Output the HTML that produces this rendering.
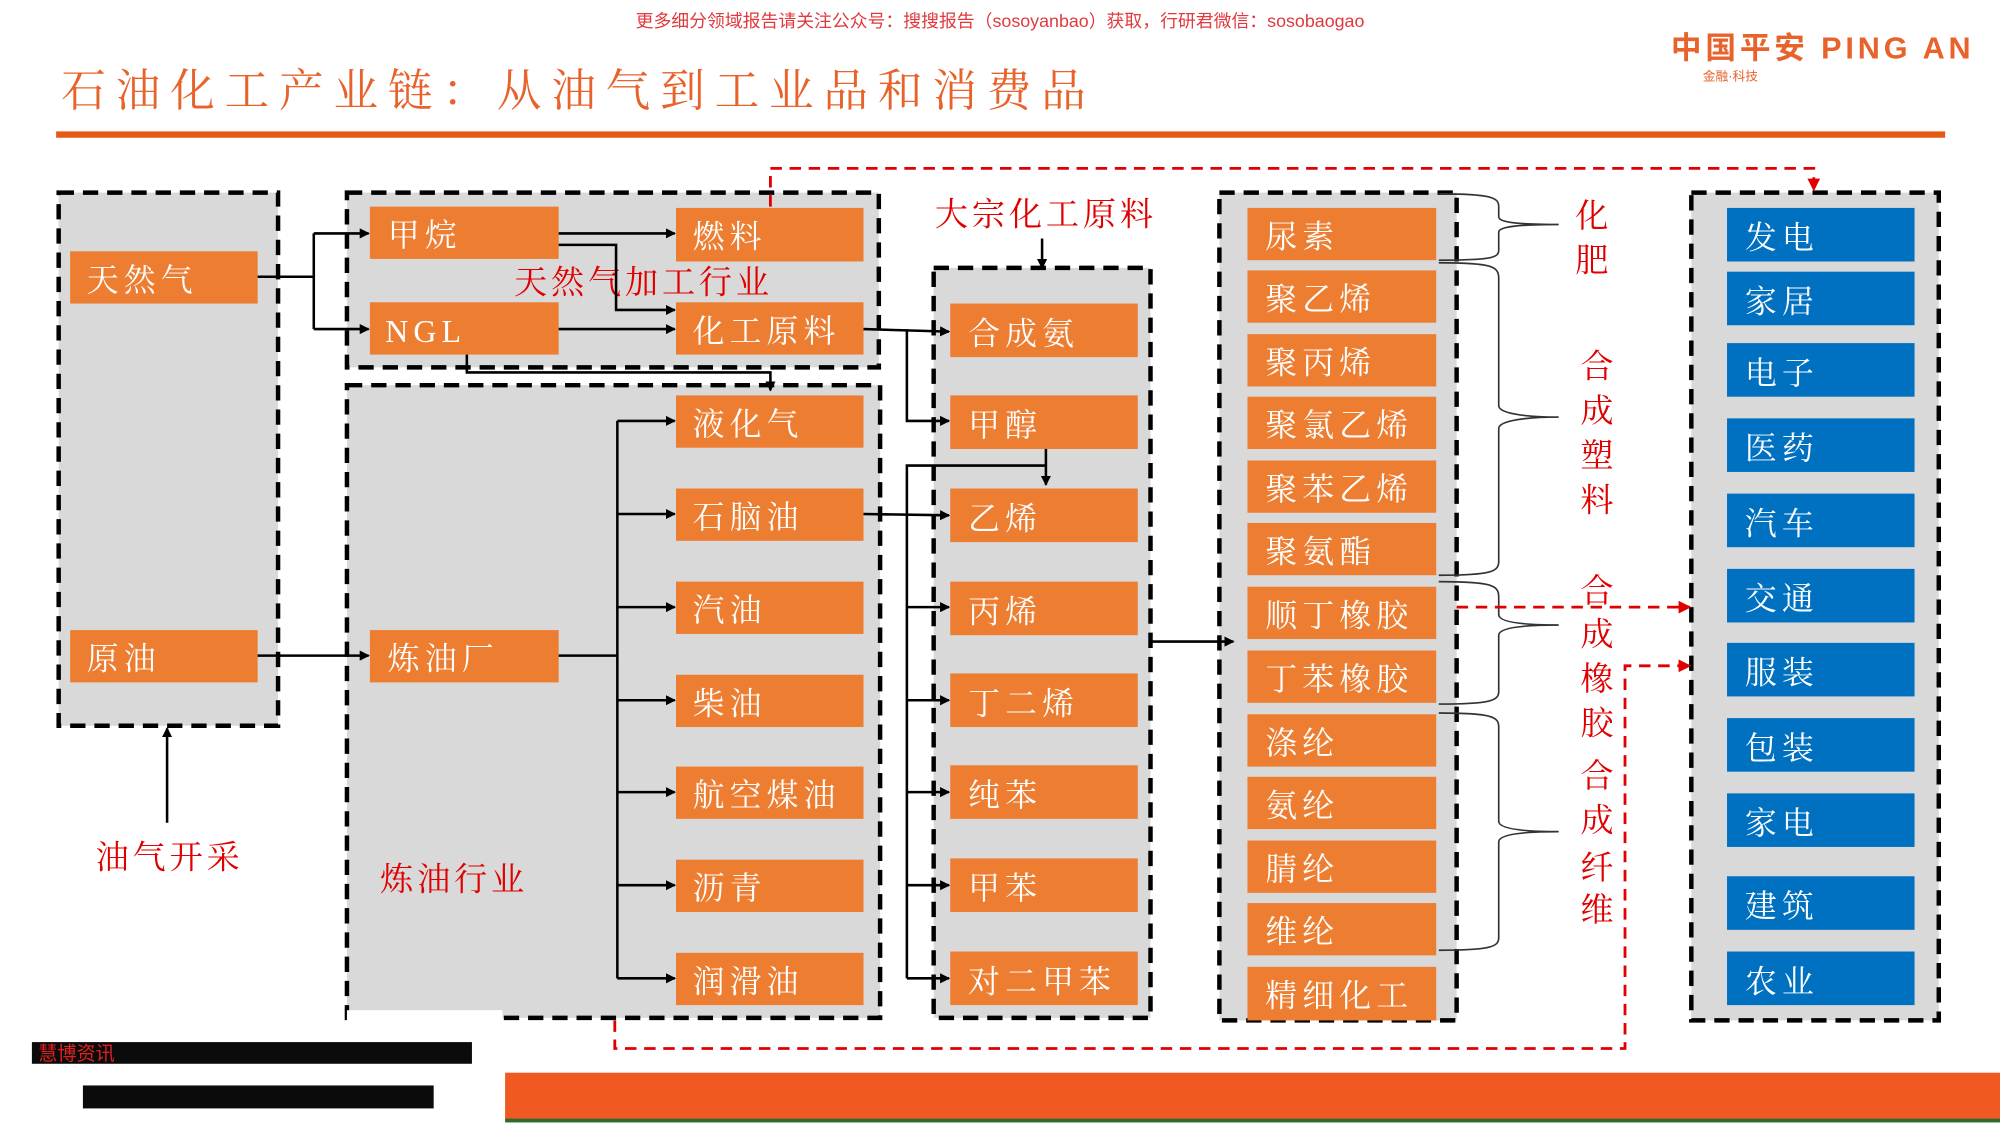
<!DOCTYPE html>
<html><head><meta charset="utf-8"><style>
html,body{margin:0;padding:0;background:#fff;width:2000px;height:1125px;overflow:hidden}
svg{display:block}
.o{fill:#ed7d31}.b{fill:#0070c0}
.t{font-family:"Liberation Serif","Noto Serif CJK SC",serif;font-size:25px;fill:#fff;letter-spacing:4px}
.r{font-family:"Liberation Serif","Noto Serif CJK SC",serif;font-size:26px;fill:#e00000;letter-spacing:3px}
.g{fill:#d9d9d9;stroke:#000;stroke-width:3.5;stroke-dasharray:12 7}
.l{stroke:#000;stroke-width:2;fill:none}
.rd{stroke:#e00000;stroke-width:2.2;fill:none;stroke-dasharray:9 6}
.br{stroke:#333;stroke-width:1.3;fill:none}
</style></head><body>
<svg width="2000" height="1125" viewBox="0 0 1568 882" xmlns="http://www.w3.org/2000/svg">
<defs>
<marker id="a" markerWidth="8" markerHeight="8" refX="7" refY="4" orient="auto" markerUnits="userSpaceOnUse"><path d="M0,0 L8,4 L0,8z" fill="#000"/></marker>
<marker id="ar" markerWidth="10" markerHeight="10" refX="9" refY="5" orient="auto" markerUnits="userSpaceOnUse"><path d="M0,0 L10,5 L0,10z" fill="#e00000"/></marker>
</defs>
<text x="784" y="21" text-anchor="middle" font-family="Liberation Sans,'Noto Sans CJK SC',sans-serif" font-size="14" fill="#e0393e">更多细分领域报告请关注公众号：搜搜报告（sosoyanbao）获取，行研君微信：sosobaogao</text>
<text x="1310" y="46" font-family="Liberation Sans,'Noto Sans CJK SC',sans-serif" font-size="24" font-weight="bold" fill="#e8632b" textLength="235">中国平安 PING AN</text>
<text x="1335" y="63" font-family="Liberation Sans,'Noto Sans CJK SC',sans-serif" font-size="10" fill="#e8632b">金融·科技</text>
<text x="48" y="83" font-family="'Noto Serif CJK SC',serif" font-size="35" fill="#e8632b" letter-spacing="7.7">石油化工产业链：从油气到工业品和消费品</text>
<rect x="44" y="103" width="1481" height="5" fill="#e55a13"/>

<rect class="g" x="46" y="151" width="172" height="418"/>
<rect class="o" x="55" y="197" width="147" height="41"/><text class="t" x="68" y="228">天然气</text>
<rect class="o" x="55" y="494" width="147" height="41"/><text class="t" x="68" y="525">原油</text>
<line class="l" x1="131" y1="645" x2="131" y2="571" marker-end="url(#a)"/>
<text class="r" x="75" y="681">油气开采</text>

<rect class="g" x="272" y="151" width="417" height="137"/>
<rect class="o" x="290" y="162" width="148" height="41"/><text class="t" x="304" y="193">甲烷</text>
<rect class="o" x="290" y="237" width="148" height="41"/><text class="t" x="302" y="268">NGL</text>
<rect class="o" x="530" y="163" width="147" height="42"/><text class="t" x="543" y="194">燃料</text>
<rect class="o" x="530" y="237" width="147" height="41"/><text class="t" x="543" y="268">化工原料</text>
<text class="r" x="403" y="230">天然气加工行业</text>

<rect class="g" x="272" y="302" width="418" height="496"/>
<rect x="272" y="792" width="122" height="10" fill="#fff"/>
<rect x="274" y="780" width="120" height="10" fill="#d9d9d9"/>
<rect class="o" x="290" y="494" width="148" height="41"/><text class="t" x="304" y="525">炼油厂</text>
<rect class="o" x="530" y="310" width="147" height="41"/><text class="t" x="543" y="341">液化气</text>
<rect class="o" x="530" y="383" width="147" height="41"/><text class="t" x="543" y="414">石脑油</text>
<rect class="o" x="530" y="456" width="147" height="41"/><text class="t" x="543" y="487">汽油</text>
<rect class="o" x="530" y="529" width="147" height="41"/><text class="t" x="543" y="560">柴油</text>
<rect class="o" x="530" y="601" width="147" height="41"/><text class="t" x="543" y="632">航空煤油</text>
<rect class="o" x="530" y="674" width="147" height="41"/><text class="t" x="543" y="705">沥青</text>
<rect class="o" x="530" y="747" width="147" height="41"/><text class="t" x="543" y="778">润滑油</text>
<text class="r" x="298" y="698">炼油行业</text>

<text class="r" x="733" y="177">大宗化工原料</text>
<line class="l" x1="817" y1="187" x2="817" y2="210" marker-end="url(#a)"/>
<rect class="g" x="732" y="210" width="170" height="588"/>
<rect class="o" x="745" y="238" width="147" height="42"/><text class="t" x="759" y="270">合成氨</text>
<rect class="o" x="745" y="310" width="147" height="42"/><text class="t" x="759" y="342">甲醇</text>
<rect class="o" x="745" y="383" width="147" height="42"/><text class="t" x="759" y="415">乙烯</text>
<rect class="o" x="745" y="456" width="147" height="42"/><text class="t" x="759" y="488">丙烯</text>
<rect class="o" x="745" y="528" width="147" height="42"/><text class="t" x="759" y="560">丁二烯</text>
<rect class="o" x="745" y="600" width="147" height="42"/><text class="t" x="759" y="632">纯苯</text>
<rect class="o" x="745" y="673" width="147" height="42"/><text class="t" x="759" y="705">甲苯</text>
<rect class="o" x="745" y="746" width="147" height="42"/><text class="t" x="759" y="778">对二甲苯</text>

<rect class="g" x="956" y="151" width="186" height="649"/>
<g>
<rect class="o" x="978" y="163" width="148" height="41"/><text class="t" x="992" y="194">尿素</text>
<rect class="o" x="978" y="212" width="148" height="41"/><text class="t" x="992" y="243">聚乙烯</text>
<rect class="o" x="978" y="262" width="148" height="41"/><text class="t" x="992" y="293">聚丙烯</text>
<rect class="o" x="978" y="311" width="148" height="41"/><text class="t" x="992" y="342">聚氯乙烯</text>
<rect class="o" x="978" y="361" width="148" height="41"/><text class="t" x="992" y="392">聚苯乙烯</text>
<rect class="o" x="978" y="410" width="148" height="41"/><text class="t" x="992" y="441">聚氨酯</text>
<rect class="o" x="978" y="460" width="148" height="41"/><text class="t" x="992" y="491">顺丁橡胶</text>
<rect class="o" x="978" y="510" width="148" height="41"/><text class="t" x="992" y="541">丁苯橡胶</text>
<rect class="o" x="978" y="560" width="148" height="41"/><text class="t" x="992" y="591">涤纶</text>
<rect class="o" x="978" y="609" width="148" height="41"/><text class="t" x="992" y="640">氨纶</text>
<rect class="o" x="978" y="659" width="148" height="41"/><text class="t" x="992" y="690">腈纶</text>
<rect class="o" x="978" y="708" width="148" height="41"/><text class="t" x="992" y="739">维纶</text>
<rect class="o" x="978" y="758" width="148" height="42"/><text class="t" x="992" y="789">精细化工</text>
</g>
<path class="br" d="M1128,152 C1170,152 1175,155 1175,162 L1175,170 C1175,175 1195,176 1222,176 C1195,176 1175,177 1175,182 L1175,196 C1175,202 1170,204 1128,204"/>
<path class="br" d="M1128,206 C1170,206 1175,209 1175,218 L1175,318 C1175,324 1195,327 1222,327 C1195,327 1175,330 1175,336 L1175,440 C1175,448 1170,451 1128,451"/>
<path class="br" d="M1128,456 C1170,456 1175,459 1175,468 L1175,482 C1175,488 1195,490 1222,490 C1195,490 1175,492 1175,498 L1175,542 C1175,549 1170,552 1128,552"/>
<path class="br" d="M1128,559 C1170,559 1175,562 1175,570 L1175,644 C1175,650 1195,652 1222,652 C1195,652 1175,654 1175,660 L1175,735 C1175,742 1170,745 1128,745"/>
<g class="r">
<text x="1235" y="178">化</text><text x="1235" y="213">肥</text>
<text x="1239" y="296">合</text><text x="1239" y="331">成</text><text x="1239" y="366">塑</text><text x="1239" y="401">料</text>
<text x="1239" y="472">合</text><text x="1239" y="506">成</text><text x="1239" y="541">橡</text><text x="1239" y="576">胶</text>
<text x="1239" y="617">合</text><text x="1239" y="652">成</text><text x="1239" y="689">纤</text><text x="1239" y="722">维</text>
</g>

<rect class="g" x="1326" y="151" width="194" height="649"/>
<g>
<rect class="b" x="1354" y="163" width="147" height="42"/><text class="t" x="1368" y="195">发电</text>
<rect class="b" x="1354" y="213" width="147" height="42"/><text class="t" x="1368" y="245">家居</text>
<rect class="b" x="1354" y="269" width="147" height="42"/><text class="t" x="1368" y="301">电子</text>
<rect class="b" x="1354" y="328" width="147" height="42"/><text class="t" x="1368" y="360">医药</text>
<rect class="b" x="1354" y="387" width="147" height="42"/><text class="t" x="1368" y="419">汽车</text>
<rect class="b" x="1354" y="446" width="147" height="42"/><text class="t" x="1368" y="478">交通</text>
<rect class="b" x="1354" y="504" width="147" height="42"/><text class="t" x="1368" y="536">服装</text>
<rect class="b" x="1354" y="563" width="147" height="42"/><text class="t" x="1368" y="595">包装</text>
<rect class="b" x="1354" y="622" width="147" height="42"/><text class="t" x="1368" y="654">家电</text>
<rect class="b" x="1354" y="687" width="147" height="42"/><text class="t" x="1368" y="719">建筑</text>
<rect class="b" x="1354" y="746" width="147" height="42"/><text class="t" x="1368" y="778">农业</text>
</g>

<polyline class="l" points="202,217 246,217"/>
<polyline class="l" points="246,183 246,258"/>
<line class="l" x1="246" y1="183" x2="289" y2="183" marker-end="url(#a)"/>
<line class="l" x1="246" y1="258" x2="289" y2="258" marker-end="url(#a)"/>
<line class="l" x1="438" y1="183" x2="529" y2="183" marker-end="url(#a)"/>
<polyline class="l" points="438,192 483,192 483,243 529,243" marker-end="url(#a)"/>
<line class="l" x1="438" y1="258" x2="529" y2="258" marker-end="url(#a)"/>
<polyline class="l" points="366,278 366,292 604,292 604,306" marker-end="url(#a)"/>
<line class="l" x1="202" y1="514" x2="289" y2="514" marker-end="url(#a)"/>
<polyline class="l" points="438,514 484,514"/>
<line class="l" x1="484" y1="330" x2="484" y2="767"/>
<line class="l" x1="484" y1="330" x2="529" y2="330" marker-end="url(#a)"/>
<line class="l" x1="484" y1="403" x2="529" y2="403" marker-end="url(#a)"/>
<line class="l" x1="484" y1="476" x2="529" y2="476" marker-end="url(#a)"/>
<line class="l" x1="484" y1="549" x2="529" y2="549" marker-end="url(#a)"/>
<line class="l" x1="484" y1="621" x2="529" y2="621" marker-end="url(#a)"/>
<line class="l" x1="484" y1="694" x2="529" y2="694" marker-end="url(#a)"/>
<line class="l" x1="484" y1="767" x2="529" y2="767" marker-end="url(#a)"/>
<line class="l" x1="677" y1="258" x2="744" y2="260" marker-end="url(#a)"/>
<polyline class="l" points="711,258 711,330 744,330" marker-end="url(#a)"/>
<line class="l" x1="677" y1="403" x2="744" y2="404" marker-end="url(#a)"/>
<polyline class="l" points="820,352 820,380" marker-end="url(#a)"/>
<polyline class="l" points="820,365 711,365 711,767"/>
<line class="l" x1="711" y1="476" x2="744" y2="476" marker-end="url(#a)"/>
<line class="l" x1="711" y1="549" x2="744" y2="549" marker-end="url(#a)"/>
<line class="l" x1="711" y1="621" x2="744" y2="621" marker-end="url(#a)"/>
<line class="l" x1="711" y1="694" x2="744" y2="694" marker-end="url(#a)"/>
<line class="l" x1="711" y1="767" x2="744" y2="767" marker-end="url(#a)"/>
<line class="l" x1="902" y1="503" x2="967" y2="503" marker-end="url(#a)"/>

<polyline class="rd" points="604,162 604,132 1422,132 1422,149" marker-end="url(#ar)"/>
<line class="rd" x1="1142" y1="476" x2="1325" y2="476" marker-end="url(#ar)"/>
<polyline class="rd" points="482,800 482,822 1274,822 1274,522 1325,522" marker-end="url(#ar)"/>

<rect x="25" y="817" width="345" height="17" fill="#0b0b0b"/>
<text x="30" y="831" font-family="Liberation Sans,'Noto Sans CJK SC',sans-serif" font-size="15" fill="#e02020">慧博资讯</text>
<rect x="65" y="851" width="275" height="18" fill="#0b0b0b"/>
<rect x="396" y="841" width="1172" height="37" fill="#f05a22"/>
<rect x="396" y="877" width="1172" height="3" fill="#2e6b2e"/>
</svg>
</body></html>
